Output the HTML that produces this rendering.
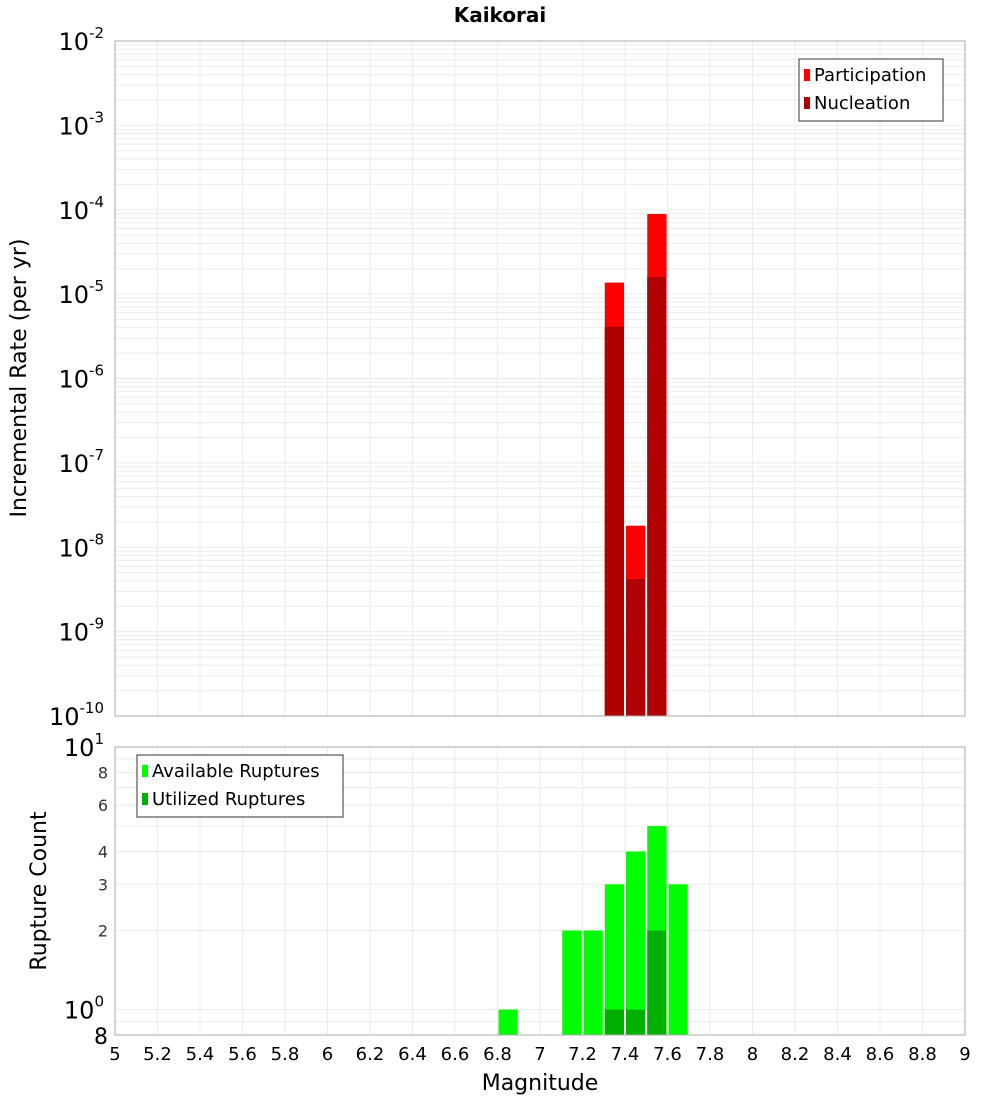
<!DOCTYPE html>
<html><head><meta charset="utf-8"><style>
body{margin:0;background:#fff}
svg{display:block;font-family:"DejaVu Sans","Liberation Sans",sans-serif}
</style></head><body>
<svg id="c" width="1000" height="1100" xmlns="http://www.w3.org/2000/svg">
<text x="500" y="22" text-anchor="middle" font-size="20" font-weight="bold">Kaikorai</text>
<g id="topg"></g>
<g id="botg"></g>
<text transform="translate(26,378) rotate(-90)" text-anchor="middle" font-size="22">Incremental Rate (per yr)</text>
<text transform="translate(46,891) rotate(-90)" text-anchor="middle" font-size="22">Rupture Count</text>
<text x="540" y="1090" text-anchor="middle" font-size="22">Magnitude</text>
</svg>
<script>
const binCenters=[7.35,7.45,7.55];
const participation=[1.37e-5,1.8e-8,8.9e-5];
const nucleation=[4.1e-6,4.2e-9,1.6e-5];
const countBins=[6.85,7.15,7.25,7.35,7.45,7.55,7.65];
const available=[1,2,2,3,4,5,3];
const utilized=[0,0,0,1,1,2,0];
const xTicks=[5,5.2,5.4,5.6,5.8,6,6.2,6.4,6.6,6.8,7,7.2,7.4,7.6,7.8,8,8.2,8.4,8.6,8.8,9];
const topExps=[-2,-3,-4,-5,-6,-7,-8,-9,-10];
const botTickLabels=[2,3,4,6,8];

const NS="http://www.w3.org/2000/svg";
const X0=115,X1=965,T0=41,T1=716,B0=747,B1=1035;
const xs=m=>X0+(m-5)/4*(X1-X0);
const yt=v=>T0+(-2-Math.log10(v))/8*(T1-T0);
const yb=v=>B0+(1-Math.log10(v))/(1-Math.log10(0.8))*(B1-B0);
function el(p,t,a,txt){const e=document.createElementNS(NS,t);for(const k in a)e.setAttribute(k,a[k]);if(txt!==undefined)e.textContent=txt;p.appendChild(e);return e;}
const topG=document.getElementById('topg'),botG=document.getElementById('botg');
for(let e=-10;e<-2;e++)for(let k=1;k<10;k++){const y=yt(k*Math.pow(10,e));
 const g=el(topG,'line',{x1:X0,x2:X1,y1:y,y2:y,stroke:'#ebebeb','stroke-width':1});
 
 }
for(const m of xTicks){const a=el(topG,'line',{x1:xs(m),x2:xs(m),y1:T0,y2:T1,stroke:'#ebebeb'});
 
 
 const b=el(botG,'line',{x1:xs(m),x2:xs(m),y1:B0,y2:B1,stroke:'#ebebeb'});
 
 }
for(let v=1;v<=10;v++){const y=yb(v);const g=el(botG,'line',{x1:X0,x2:X1,y1:y,y2:y,stroke:'#ebebeb'});
 
 }
{const g=el(botG,'line',{x1:X0,x2:X1,y1:yb(0.9),y2:yb(0.9),stroke:'#ebebeb'});
 
 }
binCenters.forEach((c,i)=>{
 const x=xs(c-0.05)+1,w=xs(c+0.05)-xs(c-0.05)-2;
 const p=el(topG,'rect',{x:x,y:yt(participation[i]),width:w,height:T1-yt(participation[i]),fill:'#ff0000'});
 
 
 const n=el(topG,'rect',{x:x,y:yt(nucleation[i]),width:w,height:T1-yt(nucleation[i]),fill:'#b00000'});
 
 
});
countBins.forEach((c,i)=>{
 const x=xs(c-0.05)+1,w=xs(c+0.05)-xs(c-0.05)-2;
 const a=el(botG,'rect',{x:x,y:yb(available[i]),width:w,height:B1-yb(available[i]),fill:'#00ff00'});
 
 
 if(utilized[i]>0){const u=el(botG,'rect',{x:x,y:yb(utilized[i]),width:w,height:B1-yb(utilized[i]),fill:'#00b000'});
 
 }
});
{const f=el(topG,'rect',{x:X0,y:T0,width:X1-X0,height:T1-T0,fill:'none',stroke:'#aaa'});
 
 
 const g=el(botG,'rect',{x:X0,y:B0,width:X1-X0,height:B1-B0,fill:'none',stroke:'#aaa'});
 
 }
for(const e of topExps){const y=yt(Math.pow(10,e));
 const t=el(topG,'text',{x:104,y:y+9,'text-anchor':'end','font-size':24});
 
 
 el(t,'tspan',{},'10');el(t,'tspan',{dy:-12,'font-size':15},String(e));}
{const t=el(botG,'text',{x:104,y:yb(10)+9,'text-anchor':'end','font-size':24});
 
 
 el(t,'tspan',{},'10');el(t,'tspan',{dy:-12,'font-size':15},'1');
 const t2=el(botG,'text',{x:104,y:yb(1)+9,'text-anchor':'end','font-size':24});
 
 
 el(t2,'tspan',{},'10');el(t2,'tspan',{dy:-12,'font-size':15},'0');
 const t3=el(botG,'text',{x:108,y:B1+9,'text-anchor':'end','font-size':22},'8');
 
 }
for(const v of botTickLabels){const t=el(botG,'text',{x:108,y:yb(v)+6,'text-anchor':'end','font-size':16,fill:'#333'},String(v));
 
 }
for(const m of xTicks){const t=el(botG,'text',{x:xs(m),y:1060,'text-anchor':'middle','font-size':18},String(m));
 
 }
function legend(p,x,y,w,items){const g=el(p,'g',{});
 
 
 el(g,'rect',{x:x,y:y,width:w,height:items.length*28+6,fill:'#fff',stroke:'#333'});
 items.forEach((it,i)=>{const r=el(g,'rect',{x:x+5,y:y+10+i*28,width:6,height:12,fill:it[1]});
  
  
  const t=el(g,'text',{x:x+15,y:y+22+i*28,'font-size':18},it[0]);
  
  });}
legend(topG,799,59,144,[['Participation','#ff0000'],['Nucleation','#b00000']]);
legend(botG,137,755,206,[['Available Ruptures','#00ff00'],['Utilized Ruptures','#00b000']]);
</script>
</body></html>
